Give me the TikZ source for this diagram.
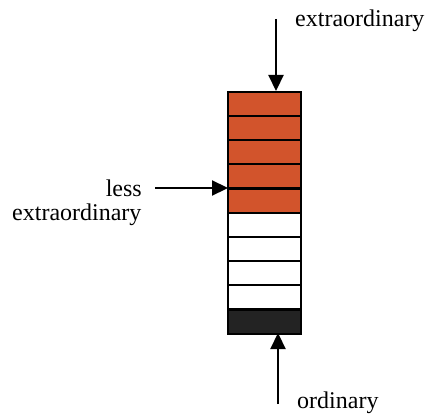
\documentclass[tikz,border=0pt]{standalone}
\usepackage{fontspec}
\setmainfont{Liberation Serif}
\newfontfamily\timesfont{Liberation Serif}
\usetikzlibrary{arrows.meta}
\definecolor{cellorange}{RGB}{210,84,44}
\definecolor{celldark}{RGB}{35,35,35}
\tikzset{
  cell/.style={draw=black, line width=2.2pt, minimum width=73pt, minimum height=24.2pt, inner sep=0pt, outer sep=0pt},
  hot/.style={cell, fill=cellorange},
  cold/.style={cell, fill=white},
  base/.style={cell, fill=celldark},
  lbl/.style={font=\timesfont\fontsize{24}{27}\selectfont, inner sep=0pt},
  pointer/.style={line width=2.2pt, -{Triangle[length=16pt,width=15pt]}}
}
\begin{document}
\begin{tikzpicture}[x=1pt,y=-1pt]
\useasboundingbox (0,0) rectangle (427,417);
\foreach \i in {0,...,4}{
  \node[hot] (c\i) at (264.5,{103.8+24.2*\i}) {};
}
\foreach \i in {5,...,8}{
  \node[cold] (c\i) at (264.5,{103.8+24.2*\i}) {};
}
\node[base] (c9) at (264.5,{103.8+24.2*9}) {};
\coordinate (topstart) at (276,19);
\coordinate (toptip) at (276,91);
\coordinate (botstart) at (278,404);
\coordinate (bottip) at (278,333);
\coordinate (leftstart) at (155,188);
\coordinate (lefttip) at (228,188);
\draw[pointer] (topstart) -- (toptip);
\draw[pointer] (botstart) -- (bottip);
\draw[pointer] (leftstart) -- (lefttip);
\node[lbl, anchor=west] (t1) at (295,21) {extraordinary};
\node[lbl, anchor=east] (t2) at (142,188) {less};
\node[lbl, anchor=west] (t3) at (12,215) {extraordinary};
\node[lbl, anchor=west] (t4) at (297,403) {ordinary};
\end{tikzpicture}
\end{document}
